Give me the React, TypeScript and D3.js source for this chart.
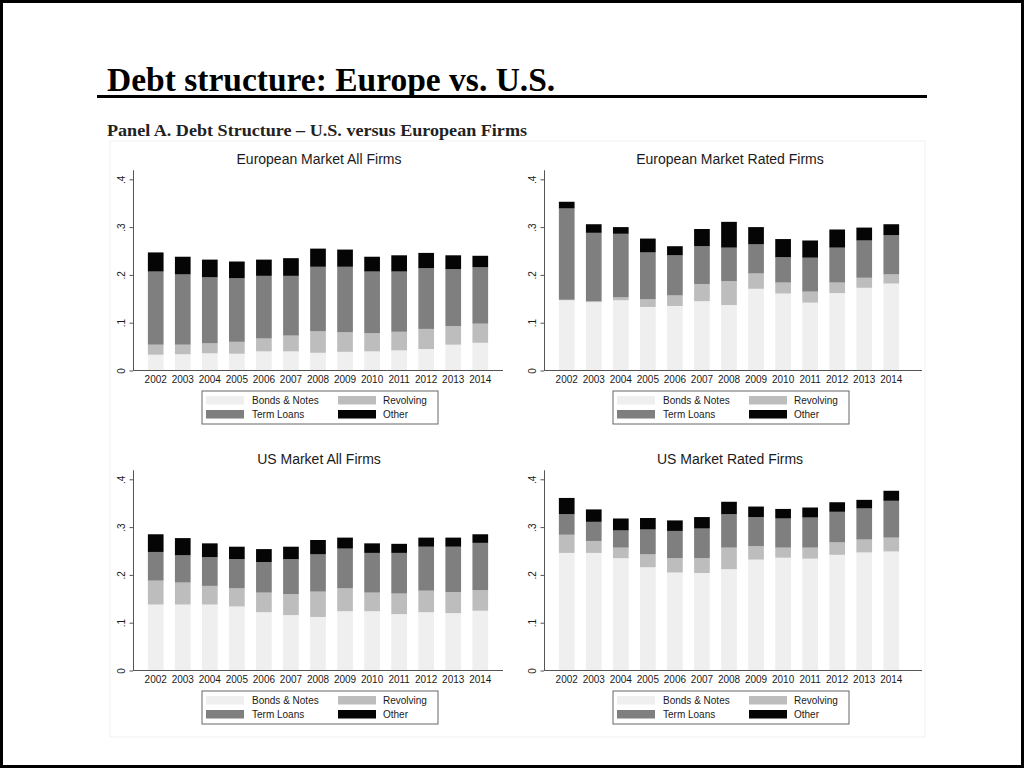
import React, { useEffect, useRef } from 'react';
import * as d3 from 'd3';

const years = ['2002', '2003', '2004', '2005', '2006', '2007', '2008', '2009', '2010', '2011', '2012', '2013', '2014'];
const seriesKeys = ['bonds', 'revolving', 'term', 'other'];
const seriesNames = ['Bonds & Notes', 'Revolving', 'Term Loans', 'Other'];
const seriesColors = ['#efefef', '#bdbdbd', '#7f7f7f', '#050505'];
const yTicks = [0, 0.1, 0.2, 0.3, 0.4];
const yTickLabels = ['0', '.1', '.2', '.3', '.4'];

// European market, all firms
const euAllBonds = [0.033, 0.034, 0.036, 0.035, 0.040, 0.040, 0.037, 0.039, 0.040, 0.042, 0.045, 0.054, 0.058];
const euAllRevolving = [0.021, 0.020, 0.021, 0.025, 0.027, 0.033, 0.045, 0.041, 0.038, 0.039, 0.042, 0.039, 0.040];
const euAllTerm = [0.153, 0.147, 0.138, 0.133, 0.131, 0.125, 0.135, 0.137, 0.129, 0.126, 0.127, 0.119, 0.118];
const euAllOther = [0.040, 0.037, 0.037, 0.035, 0.034, 0.037, 0.038, 0.036, 0.031, 0.034, 0.032, 0.029, 0.024];

// European market, rated firms
const euRatedBonds = [0.147, 0.143, 0.147, 0.133, 0.135, 0.145, 0.137, 0.171, 0.161, 0.142, 0.162, 0.173, 0.182];
const euRatedRevolving = [0.001, 0.002, 0.006, 0.016, 0.022, 0.036, 0.050, 0.032, 0.023, 0.023, 0.022, 0.021, 0.019];
const euRatedTerm = [0.191, 0.143, 0.133, 0.098, 0.084, 0.079, 0.070, 0.061, 0.053, 0.071, 0.073, 0.078, 0.082];
const euRatedOther = [0.014, 0.018, 0.014, 0.029, 0.019, 0.036, 0.054, 0.036, 0.038, 0.036, 0.038, 0.027, 0.023];

// US market, all firms
const usAllBonds = [0.138, 0.138, 0.138, 0.134, 0.122, 0.116, 0.112, 0.124, 0.124, 0.118, 0.122, 0.120, 0.125];
const usAllRevolving = [0.050, 0.046, 0.039, 0.038, 0.041, 0.044, 0.053, 0.048, 0.039, 0.043, 0.045, 0.044, 0.043];
const usAllTerm = [0.060, 0.057, 0.060, 0.061, 0.064, 0.073, 0.078, 0.083, 0.083, 0.085, 0.092, 0.095, 0.099];
const usAllOther = [0.037, 0.036, 0.029, 0.026, 0.027, 0.026, 0.030, 0.023, 0.020, 0.019, 0.019, 0.019, 0.018];

// US market, rated firms
const usRatedBonds = [0.246, 0.246, 0.235, 0.216, 0.205, 0.204, 0.212, 0.232, 0.236, 0.234, 0.242, 0.247, 0.249];
const usRatedRevolving = [0.038, 0.025, 0.022, 0.027, 0.030, 0.031, 0.045, 0.028, 0.021, 0.023, 0.026, 0.027, 0.029];
const usRatedTerm = [0.043, 0.040, 0.036, 0.052, 0.057, 0.062, 0.070, 0.061, 0.061, 0.063, 0.064, 0.065, 0.077];
const usRatedOther = [0.034, 0.026, 0.025, 0.024, 0.022, 0.024, 0.026, 0.022, 0.020, 0.021, 0.020, 0.018, 0.021];

const panelTitles = ['European Market All Firms', 'European Market Rated Firms', 'US Market All Firms', 'US Market Rated Firms'];
const panelSeries = [
  [euAllBonds, euAllRevolving, euAllTerm, euAllOther],
  [euRatedBonds, euRatedRevolving, euRatedTerm, euRatedOther],
  [usAllBonds, usAllRevolving, usAllTerm, usAllOther],
  [usRatedBonds, usRatedRevolving, usRatedTerm, usRatedOther],
];

const SANS = '"Liberation Sans", Arial, Helvetica, sans-serif';
const SERIF = '"Liberation Serif", "Times New Roman", serif';

const App: React.FC = () => {
  const svgRef = useRef<SVGSVGElement>(null);

  useEffect(() => {
    if (!svgRef.current) return;
    const svg = d3.select(svgRef.current);
    svg.selectAll('*').remove();

    // page frame
    svg.append('rect')
      .attr('x', 1.5).attr('y', 1.5)
      .attr('width', 1021).attr('height', 765)
      .attr('fill', '#fff')
      .attr('stroke', '#000')
      .attr('stroke-width', 3);

    // faint picture region
    svg.append('rect')
      .attr('x', 110).attr('y', 141)
      .attr('width', 815).attr('height', 596)
      .attr('fill', 'none')
      .attr('stroke', '#f1f1f1');

    // slide title
    svg.append('text')
      .attr('x', 107).attr('y', 91)
      .style('font-family', SERIF)
      .style('font-weight', 'bold')
      .style('font-size', '33.5px')
      .style('fill', '#000')
      .text('Debt structure: Europe vs. U.S.');

    svg.append('line')
      .attr('x1', 97).attr('x2', 927)
      .attr('y1', 96.5).attr('y2', 96.5)
      .attr('stroke', '#000')
      .attr('stroke-width', 3);

    svg.append('text')
      .attr('x', 107).attr('y', 136)
      .attr('textLength', 420)
      .attr('lengthAdjust', 'spacingAndGlyphs')
      .style('font-family', SERIF)
      .style('font-weight', 'bold')
      .style('font-size', '17px')
      .style('fill', '#222')
      .text('Panel A. Debt Structure \u2013 U.S. versus European Firms');

    const stack = d3.stack<any>().keys(seriesKeys);

    panelTitles.forEach((title, p) => {
      const col = p % 2;
      const row = Math.floor(p / 2);
      const axisX = col === 0 ? 133 : 544;
      const zeroY = row === 0 ? 370.5 : 670.5;
      const axisLen = col === 0 ? 370 : 378;

      const rows = years.map((year, i) => {
        const r: any = { year };
        seriesKeys.forEach((k, s) => { r[k] = panelSeries[p][s][i]; });
        return r;
      });

      const x = d3.scaleBand<string>()
        .domain(years)
        .range([axisX, axisX + 370])
        .paddingInner(0.42)
        .paddingOuter(0.55);

      const y = d3.scaleLinear()
        .domain([0, 0.42])
        .range([zeroY, zeroY - 0.42 * 478]);

      const g = svg.append('g');

      // panel title
      g.append('text')
        .attr('x', axisX + 186)
        .attr('y', zeroY - 207)
        .attr('text-anchor', 'middle')
        .style('font-family', SANS)
        .style('font-size', '14px')
        .style('fill', '#1a1a1a')
        .text(title);

      // stacked bars
      const layers = stack(rows);
      layers.forEach((layer, s) => {
        g.selectAll(null)
          .data(layer)
          .enter()
          .append('rect')
          .attr('x', d => x(d.data.year) as number)
          .attr('width', x.bandwidth())
          .attr('y', d => y(d[1]))
          .attr('height', d => y(d[0]) - y(d[1]))
          .attr('fill', seriesColors[s]);
      });

      // y axis
      const yAxis = g.append('g')
        .attr('transform', `translate(${axisX},0)`)
        .call(
          d3.axisLeft(y)
            .tickValues(yTicks)
            .tickSize(3.5)
            .tickSizeOuter(0)
            .tickFormat((d, i) => yTickLabels[i])
        );
      yAxis.select('.domain').attr('stroke', '#555');
      yAxis.selectAll('.tick line').attr('stroke', '#555');
      yAxis.selectAll('.tick text')
        .attr('transform', 'rotate(-90)')
        .attr('x', 0)
        .attr('y', -8)
        .attr('dy', 0)
        .attr('text-anchor', 'middle')
        .style('font-family', SANS)
        .style('font-size', '10px')
        .style('fill', '#1a1a1a');

      // x axis line
      g.append('line')
        .attr('x1', axisX).attr('x2', axisX + axisLen)
        .attr('y1', zeroY).attr('y2', zeroY)
        .attr('stroke', '#555');

      g.selectAll(null)
        .data(years)
        .enter()
        .append('text')
        .attr('x', d => (x(d) as number) + x.bandwidth() / 2)
        .attr('y', zeroY + 12.5)
        .attr('text-anchor', 'middle')
        .style('font-family', SANS)
        .style('font-size', '10px')
        .style('fill', '#1a1a1a')
        .text(d => d);

      // legend
      const bx = axisX + 69;
      const by = zeroY + 20.5;
      const legend = g.append('g').attr('transform', `translate(${bx},${by})`);
      legend.append('rect')
        .attr('width', 236).attr('height', 33)
        .attr('fill', '#fff')
        .attr('stroke', '#666');

      seriesNames.forEach((name, s) => {
        const lc = s % 2;
        const lr = Math.floor(s / 2);
        const item = legend.append('g')
          .attr('transform', `translate(${lc === 0 ? 4 : 136},${lr === 0 ? 5 : 19})`);
        item.append('rect')
          .attr('width', 38).attr('height', 8.5)
          .attr('fill', seriesColors[s]);
        item.append('text')
          .attr('x', lc === 0 ? 46 : 45)
          .attr('y', 8.3)
          .style('font-family', SANS)
          .style('font-size', '10px')
          .style('fill', '#1a1a1a')
          .text(name);
      });
    });
  }, []);

  return (
    <svg
      ref={svgRef}
      width={1024}
      height={768}
      style={{ position: 'absolute', left: 0, top: 0, display: 'block', background: '#fff' }}
    />
  );
};

export default App;
